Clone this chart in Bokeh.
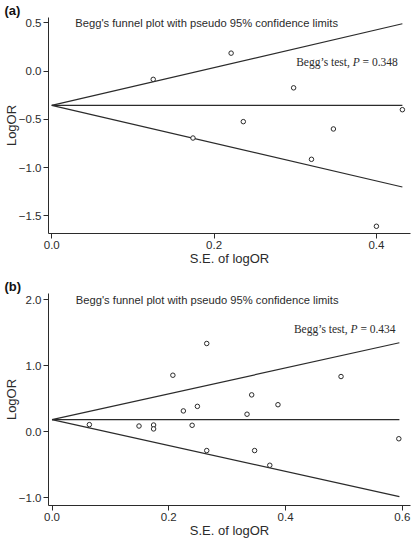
from bokeh.plotting import figure
from bokeh.models import Label, Range1d, FixedTicker
from bokeh.layouts import column
from bokeh.embed import file_html
from bokeh.resources import INLINE

# ---------------- data: panel (a) ----------------
se_a = [0.125, 0.174, 0.221, 0.236, 0.298, 0.320, 0.347, 0.400, 0.432]
lor_a = [-0.085, -0.694, 0.187, -0.524, -0.173, -0.915, -0.600, -1.61, -0.40]
funnel_se_a = [0.0, 0.432]
pooled_a = [-0.355, -0.355]
upper_a = [-0.355, 0.492]
lower_a = [-0.355, -1.202]
xticks_a = [0.0, 0.2, 0.4]
xtick_labels_a = ["0.0", "0.2", "0.4"]
yticks_a = [-1.5, -1.0, -0.5, 0.0, 0.5]
ytick_labels_a = ["\u22121.5", "\u22121.0", "\u22120.5", "0.0", "0.5"]
p_value_a = "0.348"

# ---------------- data: panel (b) ----------------
se_b = [0.064, 0.149, 0.174, 0.174, 0.207, 0.225, 0.240, 0.249, 0.265, 0.265,
        0.334, 0.342, 0.347, 0.373, 0.387, 0.495, 0.594]
lor_b = [0.11, 0.089, 0.104, 0.045, 0.859, 0.318, 0.10, 0.387, 1.34, -0.283,
         0.268, 0.561, -0.283, -0.506, 0.412, 0.839, -0.104]
funnel_se_b = [0.0, 0.595]
pooled_b = [0.185, 0.185]
upper_b = [0.185, 1.351]
lower_b = [0.185, -0.981]
xticks_b = [0.0, 0.2, 0.4, 0.6]
xtick_labels_b = ["0.0", "0.2", "0.4", "0.6"]
yticks_b = [-1.0, 0.0, 1.0, 2.0]
ytick_labels_b = ["\u22121.0", "0.0", "1.0", "2.0"]
p_value_b = "0.434"

TITLE = "Begg's funnel plot with pseudo 95% confidence limits"
INK = "#2b2b2b"
SANS = "Liberation Sans"
SERIF = "Liberation Serif"


def panel(tag, se, lor, fse, pooled, upper, lower, xt, xtl, yt, ytl, pval,
          xr, yr, height, border_top, border_bottom, title_xy, test_xy):
    p = figure(width=412, height=height, output_backend="svg", toolbar_location=None,
               x_range=Range1d(*xr), y_range=Range1d(*yr),
               min_border_left=38, min_border_right=2,
               min_border_top=border_top, min_border_bottom=border_bottom)
    p.outline_line_color = None
    p.grid.visible = False
    p.background_fill_color = "white"
    p.border_fill_color = "white"

    p.title.text = tag
    p.title.text_font = SANS
    p.title.text_font_style = "bold"
    p.title.text_font_size = "13px"
    p.title.text_color = "#111111"
    p.title.align = "left"
    p.title.offset = -44
    p.title.standoff = 0

    for ax, ticks, labels in ((p.xaxis[0], xt, xtl), (p.yaxis[0], yt, ytl)):
        ax.ticker = FixedTicker(ticks=ticks)
        ax.major_label_overrides = {t: l for t, l in zip(ticks, labels)}
        ax.minor_tick_line_color = None
        ax.major_tick_out = 5
        ax.major_tick_in = 0
        ax.axis_line_color = INK
        ax.major_tick_line_color = INK
        ax.major_label_text_font = SANS
        ax.major_label_text_font_size = "11.5px"
        ax.major_label_text_color = INK
        ax.major_label_standoff = 2
        ax.axis_label_text_font = SANS
        ax.axis_label_text_font_size = "13px"
        ax.axis_label_text_font_style = "normal"
        ax.axis_label_text_color = INK
        ax.axis_label_standoff = 0
    p.yaxis.axis_label_standoff = -3
    p.xaxis.axis_label_standoff = -1
    p.xaxis.axis_label = "S.E. of logOR"
    p.yaxis.axis_label = "LogOR"

    p.line(fse, pooled, line_color=INK, line_width=1.2)
    p.line(fse, upper, line_color=INK, line_width=1.2)
    p.line(fse, lower, line_color=INK, line_width=1.2)
    p.scatter(se, lor, size=4.5, marker="circle", line_color=INK, line_width=1,
              fill_color="white")

    p.add_layout(Label(x=title_xy[0], y=title_xy[1], text=TITLE, text_font=SANS,
                       text_font_size="11.2px", text_color=INK, text_baseline="middle",
                       text_align="left"))
    tx, ty = test_xy
    p.add_layout(Label(x=tx, y=ty, text="= " + pval, text_font=SERIF,
                       text_font_size="11.5px", text_color=INK, text_baseline="middle",
                       text_align="right"))
    p.add_layout(Label(x=tx, y=ty, x_offset=-38, text="P", text_font=SERIF,
                       text_font_style="italic", text_font_size="11.5px",
                       text_color=INK, text_baseline="middle", text_align="right"))
    p.add_layout(Label(x=tx, y=ty, x_offset=-48, text="Begg\u2019s test,",
                       text_font=SERIF, text_font_size="11.5px", text_color=INK,
                       text_baseline="middle", text_align="right"))
    return p


pa = panel("(a)", se_a, lor_a, funnel_se_a, pooled_a, upper_a, lower_a,
           xticks_a, xtick_labels_a, yticks_a, ytick_labels_a, p_value_a,
           (-0.004, 0.442), (-1.685, 0.557), 276, 12, 43,
           (0.029, 0.495), (0.4264, 0.1))
pb = panel("(b)", se_b, lor_b, funnel_se_b, pooled_b, upper_b, lower_b,
           xticks_b, xtick_labels_b, yticks_b, ytick_labels_b, p_value_b,
           (-0.006, 0.614), (-1.116, 2.098), 264, 14, 33,
           (0.0408, 2.007), (0.5885, 1.558))

layout = column(pa, pb)
open("out.html", "w").write(file_html(layout, INLINE))
